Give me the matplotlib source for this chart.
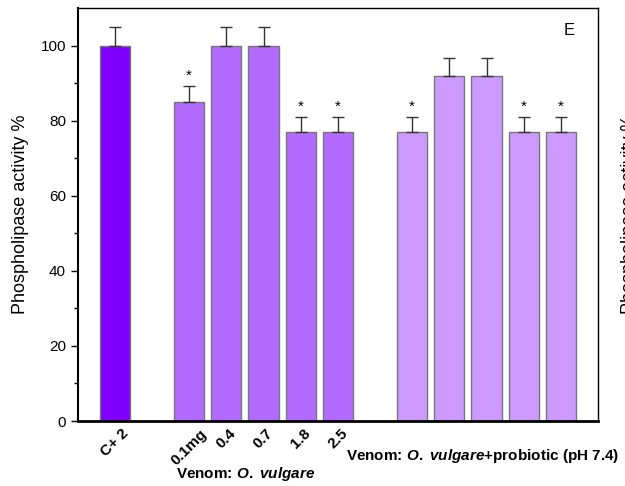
import numpy as np
import matplotlib
matplotlib.use("Agg")
import matplotlib.pyplot as plt

plt.rcParams["font.family"] = ["Liberation Sans", "DejaVu Sans"]
plt.rcParams["mathtext.fontset"] = "custom"
plt.rcParams["mathtext.rm"] = "Liberation Sans:bold"
plt.rcParams["mathtext.bf"] = "Liberation Sans:bold"
plt.rcParams["mathtext.it"] = "Liberation Sans:bold:italic"

# data
labels = ["C+ 2", "0.1mg", "0.4", "0.7", "1.8", "2.5", "", "", "", "", ""]
groups = [0, 1, 1, 1, 1, 1, 2, 2, 2, 2, 2]
activity = [100, 85, 100, 100, 77, 77, 77, 92, 92, 77, 77]
errors = [5, 4.3, 5, 5, 4, 4, 4, 4.6, 4.6, 4, 4]
signif = [False, True, False, False, True, True, True, False, False, True, True]
positions = [0, 2, 3, 4, 5, 6, 8, 9, 10, 11, 12]
group_colors = ["#8000FF", "#B36BFF", "#CC99FF"]

fig = plt.figure(figsize=(6.25, 4.86), dpi=100)
ax = fig.add_axes([0.1243, 0.1337, 0.8325, 0.8498])

colors = [group_colors[g] for g in groups]
ax.bar(positions, activity, width=0.81, color=colors, edgecolor="#777777",
       linewidth=1.0, zorder=2)
ax.errorbar(positions, activity, yerr=[np.zeros(len(errors)), errors], fmt="none",
            ecolor="#333333", elinewidth=1.0, capsize=4, capthick=1.0, zorder=3)

for x, y, e, s in zip(positions, activity, errors, signif):
    if s:
        ax.text(x, y + e + 0.8, "*", ha="center", va="bottom", fontsize=11)

ax.set_xlim(-1, 13)
ax.set_ylim(0, 110)
ax.set_yticks([0, 20, 40, 60, 80, 100])
ax.set_yticks([10, 30, 50, 70, 90], minor=True)
ax.tick_params(axis="y", which="major", length=5, width=1, labelsize=11)
ax.tick_params(axis="y", which="minor", length=3, width=1)
ax.set_ylabel("Phospholipase activity %", fontsize=13, labelpad=8)

ax.set_xticks(positions)
ax.set_xticklabels(labels, rotation=45, fontweight="bold", fontsize=11)
ax.tick_params(axis="x", length=0, pad=4)

ax.spines["left"].set_linewidth(1.5)
ax.spines["bottom"].set_linewidth(2.0)
ax.spines["top"].set_linewidth(1.0)
ax.spines["right"].set_linewidth(1.0)

ax.text(0.945, 0.945, "E", transform=ax.transAxes, fontsize=12,
        ha="center", va="center")

fig.text(245.6 / 625, 1 - 474 / 486, r"Venom: $\mathit{O.\ vulgare}$",
         ha="center", va="center", fontsize=11, fontweight="bold")
fig.text(483 / 625, 1 - 456 / 486,
         r"Venom: $\mathit{O.\ vulgare}$+probiotic (pH 7.4)",
         ha="center", va="center", fontsize=11, fontweight="bold")

# label of the neighbouring panel, cut off by the figure edge
fig.text(629 / 625, 1 - 214 / 486, "Phospholipase activity %", rotation=90,
         ha="center", va="center", fontsize=13)

fig.savefig("out.png", dpi=100)
